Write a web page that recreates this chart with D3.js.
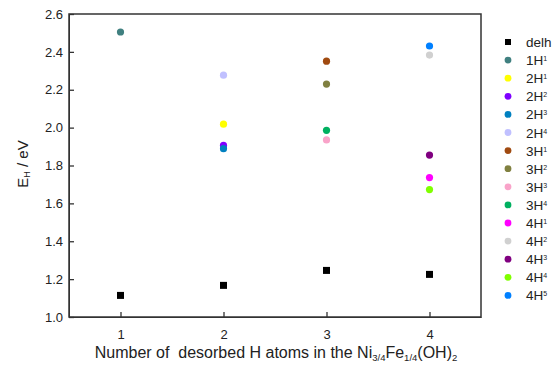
<!DOCTYPE html>
<html lang="en">
<head>
<meta charset="utf-8">
<title>E_H vs desorbed H</title>
<script src="https://cdn.jsdelivr.net/npm/d3@7"></script>
<style>
  body { margin: 0; background: #fff; }
  text { font-family: "Liberation Sans", Arial, sans-serif; fill: #222; white-space: pre; }
  .axis path, .axis line { stroke: #333; }
</style>
</head>
<body>
<script>
// delh squares
let delhX = [1, 2, 3, 4]
let delhY = [1.114, 1.167, 1.246, 1.225]

// circle series: name, superscript, x, value, colour
let seriesNames = ["1H", "2H", "2H", "2H", "2H", "3H", "3H", "3H", "3H", "4H", "4H", "4H", "4H", "4H"]
let seriesSup = ["1", "1", "2", "3", "4", "1", "2", "3", "4", "1", "2", "3", "4", "5"]
let seriesX = [1, 2, 2, 2, 2, 3, 3, 3, 3, 4, 4, 4, 4, 4]
let seriesY = [2.505, 2.018, 1.906, 1.889, 2.277, 2.351, 2.230, 1.935, 1.986, 1.736, 2.383, 1.855, 1.673, 2.431]
let seriesColors = ["#408080", "#ffff00", "#7f00ff", "#0080c0", "#c0c0ff", "#a04a10", "#808040",
  "#f9a3c9", "#00b060", "#ff00ff", "#d0d0d0", "#800080", "#80ff00", "#0080ff"]

let xTicks = [1, 2, 3, 4]
let yTicks = [1.0, 1.2, 1.4, 1.6, 1.8, 2.0, 2.2, 2.4, 2.6]

let w = 559
let h = 367
let padL = 69, padR = 481, padT = 14, padB = 317

let svg = d3.select("body").append("svg")
  .attr("width", w)
  .attr("height", h)

let xScale = d3.scaleLinear().domain([0.5, 4.5]).range([padL, padR])
let yScale = d3.scaleLinear().domain([1.0, 2.6]).range([padB, padT])

let xAxis = d3.axisBottom(xScale).tickValues(xTicks).tickFormat(d3.format("d"))
  .tickSizeInner(-5).tickSizeOuter(0).tickPadding(13)
let yAxis = d3.axisLeft(yScale).tickValues(yTicks).tickFormat(d3.format(".1f"))
  .tickSizeInner(-5).tickSizeOuter(0).tickPadding(6)

svg.append("g")
  .attr("class", "x axis")
  .attr("transform", "translate(0," + padB + ")")
  .call(xAxis)
svg.append("g")
  .attr("class", "y axis")
  .attr("transform", "translate(" + padL + ",0)")
  .call(yAxis)

svg.selectAll(".axis text").style("font-size", "13px").style("fill", "#222")
svg.selectAll(".axis line").attr("stroke-width", 1.3)

// frame
svg.append("rect")
  .attr("x", padL).attr("y", padT)
  .attr("width", padR - padL).attr("height", padB - padT)
  .attr("fill", "none").attr("stroke", "#333").attr("stroke-width", 1.5)

// squares
svg.selectAll(".sq")
  .data(delhX)
  .enter()
  .append("rect")
  .attr("class", "sq")
  .attr("x", (d) => xScale(d) - 3.5)
  .attr("y", (d, i) => yScale(delhY[i]) - 3.5)
  .attr("width", 7).attr("height", 7)
  .attr("fill", "#000")

// circles
svg.selectAll(".pt")
  .data(seriesY)
  .enter()
  .append("circle")
  .attr("class", "pt")
  .attr("cx", (d, i) => xScale(seriesX[i]))
  .attr("cy", (d) => yScale(d))
  .attr("r", 3.6)
  .attr("fill", (d, i) => seriesColors[i])

// axis titles
let xt = svg.append("text")
  .attr("x", 276).attr("y", 358)
  .attr("text-anchor", "middle")
  .style("font-size", "16px")
xt.append("tspan").text("Number of  desorbed H atoms in the Ni")
xt.append("tspan").attr("baseline-shift", "-25%").style("font-size", "9.5px").text("3/4")
xt.append("tspan").text("Fe")
xt.append("tspan").attr("baseline-shift", "-25%").style("font-size", "9.5px").text("1/4")
xt.append("tspan").text("(OH)")
xt.append("tspan").attr("baseline-shift", "-25%").style("font-size", "9.5px").text("2")

let yt = svg.append("text")
  .attr("transform", "translate(28,164) rotate(-90)")
  .attr("text-anchor", "middle")
  .style("font-size", "15px")
yt.append("tspan").text("E")
yt.append("tspan").attr("baseline-shift", "-25%").style("font-size", "9px").text("H")
yt.append("tspan").text(" / eV")

// legend
let legX = 508, legX2 = 526, legY0 = 42, legStep = 18.1
let leg = svg.append("g")
leg.append("rect")
  .attr("x", legX - 3).attr("y", legY0 - 3)
  .attr("width", 6).attr("height", 6)
  .attr("fill", "#000")
leg.append("text")
  .attr("x", legX2).attr("y", legY0 + 5)
  .style("font-size", "13.5px")
  .text("delh")

seriesNames.forEach(function(name, i) {
  let y = legY0 + legStep * (i + 1)
  leg.append("circle")
    .attr("cx", legX).attr("cy", y).attr("r", 3.4)
    .attr("fill", seriesColors[i])
  let t = leg.append("text")
    .attr("x", legX2).attr("y", y + 5)
    .style("font-size", "13.5px")
  t.append("tspan").text(name)
  t.append("tspan").attr("baseline-shift", "55%").style("font-size", "7px").text(seriesSup[i])
})
</script>
</body>
</html>
